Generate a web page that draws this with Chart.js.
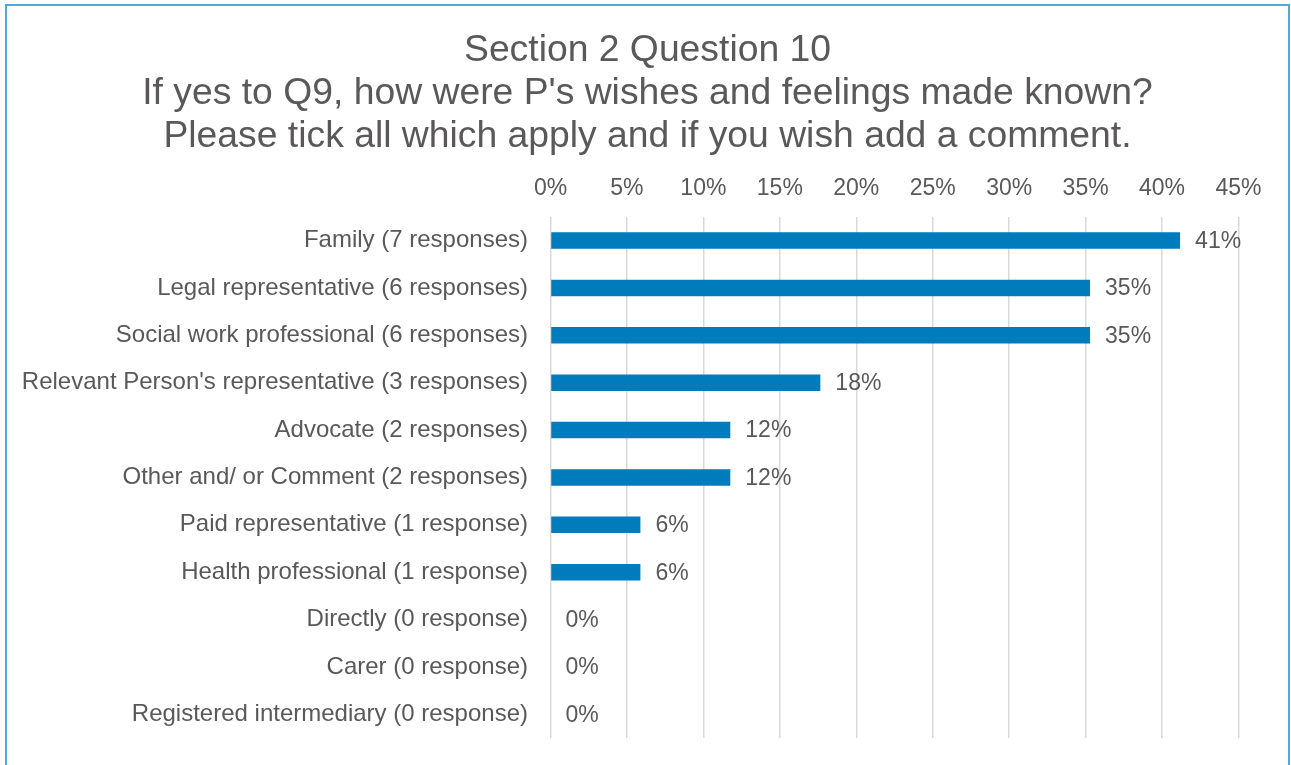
<!DOCTYPE html>
<html lang="en">
<head>
    <meta charset="UTF-8">
    <title>Section 2 Question 10</title>
    <script src="https://cdn.jsdelivr.net/npm/chart.js@4.4.1/dist/chart.umd.min.js"></script>
    <style>
        body {
            margin: 0;
            background-color: #ffffff;
            font-family: "Liberation Sans", Arial, sans-serif;
            overflow: hidden;
        }
        .frame {
            position: absolute;
            left: 5px;
            top: 4px;
            width: 1281px;
            height: 800px;
            border: 2px solid #4fa9da;
            border-bottom: none;
            background-color: #ffffff;
        }
        canvas {
            display: block;
        }
    </style>
</head>
<body>
    <div class="frame">
        <canvas id="wishesChart" width="1281" height="759"></canvas>
    </div>

    <script>
        // Answer options, shortest count at the bottom
        const categories = [
            "Family (7 responses)",
            "Legal representative (6 responses)",
            "Social work professional (6 responses)",
            "Relevant Person's representative (3 responses)",
            "Advocate (2 responses)",
            "Other and/ or Comment (2 responses)",
            "Paid representative (1 response)",
            "Health professional (1 response)",
            "Directly (0 response)",
            "Carer (0 response)",
            "Registered intermediary (0 response)"
        ];
        // Share of the 17 respondents, in percent
        const percentages = [41.18, 35.29, 35.29, 17.65, 11.76, 11.76, 5.88, 5.88, 0, 0, 0];
        const titleLines = [
            "Section 2 Question 10",
            "If yes to Q9, how were P's wishes and feelings made known?",
            "Please tick all which apply and if you wish add a comment."
        ];

        const textColor = '#5a5858';
        const barColor = '#007bbb';
        const fontFamily = '"Liberation Sans", Arial, sans-serif';

        // Writes the rounded percentage just past the end of each bar
        const valueLabels = {
            id: 'valueLabels',
            afterDatasetsDraw(chart) {
                const ctx = chart.ctx;
                const meta = chart.getDatasetMeta(0);
                ctx.save();
                ctx.font = '23px ' + fontFamily;
                ctx.fillStyle = textColor;
                ctx.textAlign = 'left';
                ctx.textBaseline = 'middle';
                meta.data.forEach((bar, i) => {
                    const value = chart.data.datasets[0].data[i];
                    ctx.fillText(Math.round(value) + '%', bar.x + 15, bar.y + 1);
                });
                ctx.restore();
            }
        };

        const ctx = document.getElementById('wishesChart').getContext('2d');
        new Chart(ctx, {
            type: 'bar',
            data: {
                labels: categories,
                datasets: [{
                    data: percentages,
                    backgroundColor: barColor,
                    barPercentage: 0.35,
                    categoryPercentage: 1
                }]
            },
            options: {
                indexAxis: 'y',
                responsive: false,
                devicePixelRatio: 1,
                animation: false,
                layout: {
                    padding: { left: 0, right: 0, top: 0, bottom: 27 }
                },
                plugins: {
                    legend: { display: false },
                    title: {
                        display: true,
                        text: titleLines,
                        color: textColor,
                        font: {
                            family: fontFamily,
                            size: 37.3,
                            weight: 'normal',
                            lineHeight: 1.165
                        },
                        padding: { top: 22.5, bottom: 0 }
                    },
                    tooltip: {
                        callbacks: {
                            label: (item) => Math.round(item.parsed.x) + '%'
                        }
                    }
                },
                scales: {
                    x: {
                        position: 'top',
                        min: 0,
                        max: 45,
                        ticks: {
                            stepSize: 5,
                            color: textColor,
                            padding: 14,
                            font: { family: fontFamily, size: 23 },
                            callback: (v) => v + '%'
                        },
                        grid: {
                            color: '#d9d9d9',
                            lineWidth: 1.5,
                            drawTicks: false
                        },
                        border: { display: false },
                        afterFit: (scale) => { scale.height = 58; }
                    },
                    y: {
                        ticks: {
                            color: textColor,
                            padding: 22.5,
                            font: { family: fontFamily, size: 24 }
                        },
                        grid: { display: false, drawTicks: false },
                        border: { display: false },
                        afterFit: (scale) => {
                            scale.width = 543.5;
                            // labels sit inside their rows, so no extra room above/below the plot
                            scale.paddingTop = 0;
                            scale.paddingBottom = 0;
                        }
                    },
                    // empty right-hand axis that only reserves room for the last value label
                    spacer: {
                        axis: 'y',
                        position: 'right',
                        grid: { display: false, drawTicks: false },
                        border: { display: false },
                        ticks: { display: false },
                        afterFit: (scale) => { scale.width = 49.5; }
                    }
                }
            },
            plugins: [valueLabels]
        });
    </script>
</body>
</html>
